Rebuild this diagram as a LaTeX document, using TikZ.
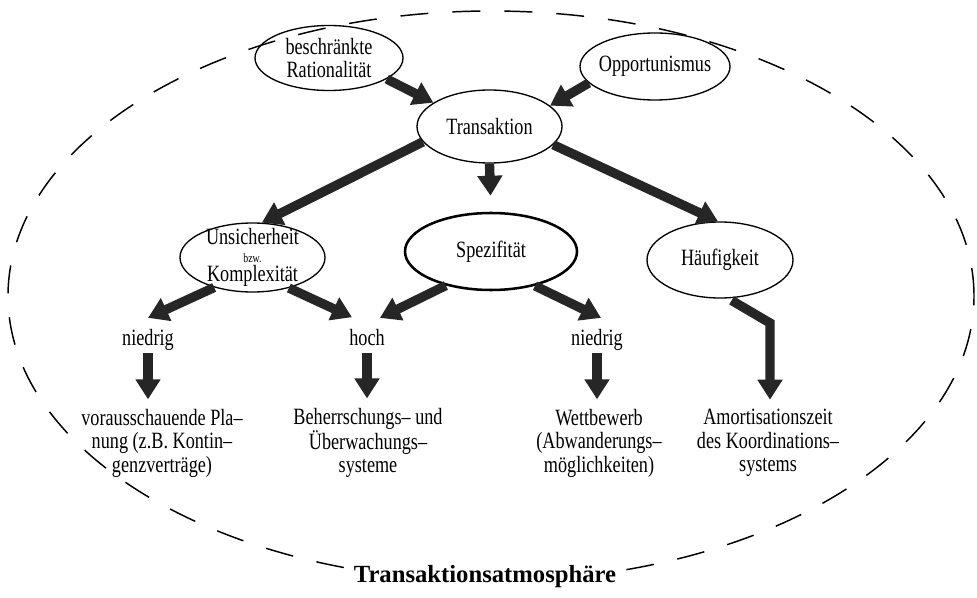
\documentclass[tikz,border=0pt]{standalone}
\usepackage{fontspec}
\setmainfont{Liberation Serif}
\newfontfamily\condfam{Liberation Serif}[FakeStretch=0.78]
\usetikzlibrary{arrows.meta,shapes.geometric}
\newcommand\ellfont{\condfam\fontsize{17.5}{17}\selectfont}
\newcommand\txtfont{\condfam\fontsize{17.5}{17.6}\selectfont}
\begin{document}
\begin{tikzpicture}[x=0.75pt,y=-0.75pt,
  el/.style={ellipse, draw, line width=1pt, inner sep=0pt, align=center, font=\ellfont},
  txt/.style={font=\txtfont, inner sep=2pt, align=center},
  arr/.style={line width=7pt, draw=black!85, line join=miter, -{Triangle[width=18pt,length=15pt]}}]
\useasboundingbox (0,0) rectangle (977,598);
\fill[white] (0,0) rectangle (977,598);
% atmosphere
\node[ellipse, draw, line width=1.1pt, dash pattern=on 21pt off 18pt, inner sep=0pt,
      minimum width=724.5pt, minimum height=427.5pt] (atmo) at (491,296) {};
\node[font=\bfseries\fontsize{18.5}{20}\selectfont, fill=white, inner xsep=2pt, inner ysep=3pt, anchor=base] (atm) at (485,582) {Transaktionsatmosphäre};
% ellipses
\node[el, minimum width=111pt, minimum height=48.75pt, inner ysep=-3pt] (rat) at (329,58) {beschränkte\\Rationalität};
\node[el, minimum width=112.5pt, minimum height=50.25pt, inner xsep=-4pt] (opp) at (655,66.5) {Opportunismus};
\node[el, minimum width=108.75pt, minimum height=54.75pt] (tra) at (489.5,126.5) {Transaktion};
\node[el, minimum width=108.75pt, minimum height=51.75pt, inner ysep=-5pt] (uns) at (252.5,257.5) {Unsicherheit\\[-4pt]{\fontsize{9.5}{9.5}\selectfont bzw.}\\[-2.5pt]Komplexität};
\node[el, line width=1.9pt, minimum width=129pt, minimum height=57.75pt] (spe) at (491,251.5) {Spezifität};
\node[el, minimum width=109.5pt, minimum height=57pt] (hau) at (720,260) {Häufigkeit};
% level labels
\node[txt, anchor=base] (n1) at (148,345) {niedrig};
\node[txt, anchor=base] (hoch) at (367,345) {hoch};
\node[txt, anchor=base] (n2) at (597,345) {niedrig};
% results
\node[txt] (plan) at (162,443) {vorausschauende Pla–\\nung (z.B. Kontin–\\genzverträge)};
\node[txt] (beh) at (368,443) {Beherrschungs– und\\Überwachungs–\\systeme};
\node[txt] (wett) at (599,443) {Wettbewerb\\(Abwanderungs–\\möglichkeiten)};
\node[txt] (amort) at (768,443) {Amortisationszeit\\des Koordinations–\\systems};
\coordinate (bend) at (770,323);
% arrows
\draw[arr] (rat.-20) -- (tra.157);
\draw[arr] (opp.194) -- (tra.19);
\draw[arr] (tra.193) -- (uns.75);
\draw[arr, shorten >=12pt] (tra.south) -- (spe.north);
\draw[arr] (tra.-16) -- (hau.93);
\draw[arr] (uns.218) -- ([yshift=6pt]n1.north);
\draw[arr] (uns.-40) -- ([xshift=-11.25pt,yshift=6.5pt]hoch.north);
\draw[arr] (spe.217) -- ([xshift=9.75pt,yshift=6pt]hoch.north);
\draw[arr] (spe.-38) -- ([xshift=3pt,yshift=6pt]n2.north);
\draw[arr, shorten >=5pt] (n1.south) -- (n1.south |- plan.north);
\draw[arr, shorten <=4pt, shorten >=5pt] (hoch.south) -- (hoch.south |- beh.north);
\draw[arr, shorten >=5pt] (n2.south) -- (n2.south |- wett.north);
\draw[arr, shorten <=3pt, shorten >=5pt] (hau.-78) -- (bend) -- (bend |- amort.north);
\end{tikzpicture}
\end{document}
